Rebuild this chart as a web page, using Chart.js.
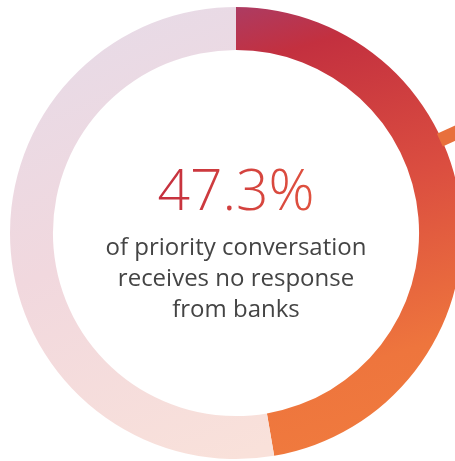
<!DOCTYPE html>
<html>
<head>
<meta charset="utf-8">
<script src="https://cdn.jsdelivr.net/npm/chart.js@4"></script>
<style>
  html, body { margin: 0; padding: 0; background: #fff; overflow: hidden; }
  #wrap { position: relative; width: 470px; height: 461px; }
</style>
</head>
<body>
<div id="wrap"><canvas id="ring"></canvas></div>
<script>
  // Share of priority conversations without a reply
  const segments = ['No response', 'Response'];
  const shares = [47.3, 52.7];
  const captionLines = ['of priority conversation', 'receives no response', 'from banks'];

  function ringGradient(chart, stops, toRight) {
    const a = chart.chartArea;
    if (!a) return stops[0][1];
    const cx = (a.left + a.right) / 2;
    const g = toRight
      ? chart.ctx.createLinearGradient(cx, a.top, cx + (a.right - a.left) * 0.3, a.bottom)
      : chart.ctx.createLinearGradient(a.left + 40, a.top, cx, a.bottom);
    stops.forEach(s => g.addColorStop(s[0], s[1]));
    return g;
  }

  // center text + small leader tick off the ring
  const centerText = {
    id: 'centerText',
    afterDatasetsDraw(chart) {
      const arc = chart.getDatasetMeta(0).data[0];
      const ctx = chart.ctx;
      const cx = arc.x, cy = arc.y, R = arc.outerRadius;

      // leader tick
      const ang = (65.5 - 90) * Math.PI / 180;
      ctx.save();
      ctx.strokeStyle = '#e8703c';
      ctx.lineWidth = 14;
      ctx.beginPath();
      ctx.moveTo(cx + Math.cos(ang) * (R - 2), cy + Math.sin(ang) * (R - 2));
      ctx.lineTo(cx + Math.cos(ang) * (R + 40), cy + Math.sin(ang) * (R + 40));
      ctx.stroke();

      // big percentage
      ctx.textAlign = 'center';
      ctx.textBaseline = 'alphabetic';
      ctx.font = '300 57px "Open Sans"';
      const pct = shares[0] + '%';
      const w = ctx.measureText(pct).width;
      const tg = ctx.createLinearGradient(cx - w / 2, 0, cx + w / 2, 0);
      tg.addColorStop(0, '#c42f3e');
      tg.addColorStop(1, '#e0523f');
      ctx.fillStyle = tg;
      ctx.fillText(pct, cx, cy - 23);

      // caption
      ctx.font = '24px "Open Sans"';
      ctx.fillStyle = '#444444';
      captionLines.forEach((line, i) => {
        ctx.fillText(line, cx, cy + 22 + i * 31);
      });
      ctx.restore();
    }
  };

  new Chart(document.getElementById('ring'), {
    type: 'doughnut',
    data: {
      labels: segments,
      datasets: [{
        data: shares,
        borderWidth: 0,
        backgroundColor: ctx => ctx.dataIndex === 0
          ? ringGradient(ctx.chart, [[0, '#ad3b62'], [0.12, '#c3303f'], [0.45, '#db4e40'], [0.8, '#ee753d'], [1, '#f07b3e']], true)
          : ringGradient(ctx.chart, [[0, '#e6dbe8'], [0.5, '#f1d8de'], [1, '#f9e1da']], false)
      }]
    },
    options: {
      responsive: true,
      maintainAspectRatio: false,
      animation: false,
      cutout: '81%',
      layout: { padding: { left: 10, right: 8, top: 7, bottom: 2 } },
      plugins: {
        legend: { display: false },
        tooltip: { enabled: false }
      }
    },
    plugins: [centerText]
  });
</script>
</body>
</html>
